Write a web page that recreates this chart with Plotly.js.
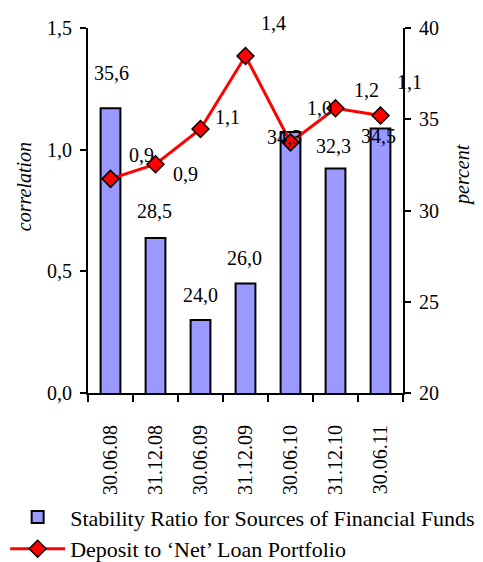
<!DOCTYPE html>
<html>
<head>
<meta charset="utf-8">
<script src="https://cdn.plot.ly/plotly-3.0.1.min.js"></script>
<style>html,body{margin:0;padding:0;background:#fff;}#chart{width:483px;height:562px;}</style>
</head>
<body>
<div id="chart"></div>
<script>
// ---- data ----
const categories = ['30.06.08','31.12.08','30.06.09','31.12.09','30.06.10','31.12.10','30.06.11'];
const stabilityRatio = [35.6, 28.5, 24.0, 26.0, 34.3, 32.3, 34.5];      // percent (right axis)
const depositToLoan = [0.88, 0.94, 1.085, 1.385, 1.03, 1.17, 1.14];     // correlation (left axis)
const leftTicks = [0, 0.5, 1.0, 1.5];
const rightTicks = [20, 25, 30, 35, 40];
const barName = 'Stability Ratio for Sources of Financial Funds';
const lineName = 'Deposit to \u2018Net\u2019 Loan Portfolio';

// ---- label placement (style only) ----
const lineLabelDx = [31, 30, 27, 28, 29, 31, 29];
const lineLabelDy = [24, -10, 12, 33, 34, 18, 34];
const barLabelDx = [1, -1, 0, -1, -6, -2, -2];
const barLabelDy = [35, 27, 25, 26, -5, 23, -8];

const FONT = 'Liberation Serif';
const FS = 20;
const fmt = v => v.toFixed(1).replace('.', ',');

const annotations = [];
categories.forEach((c, i) => {
  annotations.push({x: c, y: stabilityRatio[i], xref: 'x', yref: 'y', text: fmt(stabilityRatio[i]),
    showarrow: false, xshift: barLabelDx[i], yshift: barLabelDy[i], font: {family: FONT, size: FS, color: '#000'}});
  annotations.push({x: c, y: depositToLoan[i], xref: 'x', yref: 'y2', text: fmt(depositToLoan[i]),
    showarrow: false, xshift: lineLabelDx[i], yshift: lineLabelDy[i], font: {family: FONT, size: FS, color: '#000'}});
});
annotations.push({x: -0.203, y: 0.564, xref: 'paper', yref: 'paper', xanchor: 'center', yanchor: 'middle',
  text: '<i>correlation</i>', textangle: -90, showarrow: false, font: {family: FONT, size: FS, color: '#000'}});
annotations.push({x: 1.187, y: 0.597, xref: 'paper', yref: 'paper', xanchor: 'center', yanchor: 'middle',
  text: '<i>percent</i>', textangle: -90, showarrow: false, font: {family: FONT, size: FS, color: '#000'}});

const traces = [
  {type: 'bar', x: categories, y: stabilityRatio, name: barName, yaxis: 'y',
   marker: {color: '#9999FF', line: {color: '#000', width: 2}}, hoverinfo: 'skip'},
  {type: 'scatter', mode: 'lines+markers', x: categories, y: depositToLoan, name: lineName, yaxis: 'y2',
   line: {color: '#FF0000', width: 3},
   marker: {symbol: 'diamond', size: 13, color: '#FF0000', line: {color: '#000', width: 1.5}}, hoverinfo: 'skip'}
];

const layout = {
  width: 483, height: 562,
  margin: {l: 88, r: 80, t: 28, b: 169, autoexpand: false},
  paper_bgcolor: '#fff', plot_bgcolor: '#fff',
  separators: ',.',
  font: {family: FONT, size: FS, color: '#000'},
  bargap: 0.56,
  showlegend: true,
  legend: {x: -0.263, y: -0.283, xanchor: 'left', yanchor: 'top', orientation: 'v', itemwidth: 55,
    font: {family: FONT, size: 22, color: '#000'}, bgcolor: 'rgba(0,0,0,0)', tracegroupgap: 0},
  xaxis: {type: 'category', tickvals: categories, ticktext: categories, tickangle: -90,
    showline: true, linecolor: '#000', linewidth: 2, ticks: 'outside', tickson: 'boundaries',
    ticklen: 7, tickwidth: 2, tickcolor: '#000', showgrid: false, zeroline: false,
    ticklabelstandoff: 22, range: [-0.5, 6.5], fixedrange: true, automargin: false,
    tickfont: {family: FONT, size: FS, color: '#000'}},
  yaxis: {side: 'right', range: [20, 40], tickvals: rightTicks, ticktext: rightTicks.map(String),
    showline: true, linecolor: '#000', linewidth: 2, ticks: 'outside', ticklen: 6, tickwidth: 2,
    tickcolor: '#000', showgrid: false, zeroline: false, fixedrange: true, automargin: false,
    ticklabelstandoff: 4, tickfont: {family: FONT, size: FS, color: '#000'}},
  yaxis2: {side: 'left', overlaying: 'y', range: [0, 1.5], tickvals: leftTicks, ticktext: leftTicks.map(fmt),
    showline: true, linecolor: '#000', linewidth: 2, ticks: 'outside', ticklen: 6, tickwidth: 2,
    tickcolor: '#000', showgrid: false, zeroline: false, fixedrange: true, automargin: false,
    ticklabelstandoff: 4, tickfont: {family: FONT, size: FS, color: '#000'}},
  annotations: annotations
};

Plotly.newPlot('chart', traces, layout, {staticPlot: true, displayModeBar: false});
</script>
</body>
</html>
